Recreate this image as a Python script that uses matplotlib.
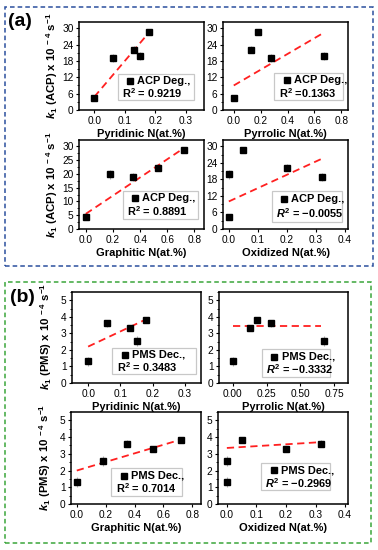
import matplotlib
matplotlib.use("Agg")
import matplotlib.pyplot as plt
from matplotlib.patches import Rectangle
from matplotlib.ticker import AutoMinorLocator

plt.rcParams['font.family'] = ['Liberation Sans', 'DejaVu Sans']
plt.rcParams['mathtext.fontset'] = 'custom'
plt.rcParams['mathtext.rm'] = 'Liberation Sans:bold'
plt.rcParams['mathtext.it'] = 'Liberation Sans:bold:italic'
plt.rcParams['mathtext.bf'] = 'Liberation Sans:bold'

# N species content of the five catalysts (at.%)
pyridinic = [0.0, 0.06, 0.13, 0.15, 0.18]
pyrrolic = [0.0, 0.28, 0.13, 0.67, 0.18]
graphitic = [0.0, 0.35, 0.53, 0.18, 0.72]
oxidized = [0.0, 0.32, 0.20, 0.0, 0.05]

# rate constants
k_acp = [4.5, 19.0, 22.2, 19.8, 28.5]
k_acp_err = [0.8, 1.5, 1.3, 1.5, 1.0]
k_pms = [1.3, 3.6, 3.3, 2.55, 3.82]
k_pms_err = [0.3, 0.2, 0.15, 0.3, 0.1]

# fitted lines (end points as drawn)
acp_fit_x = [[0, 0.18], [0, 0.65], [0, 0.72], [0, 0.32]]
acp_fit_y = [[4.8, 28.5], [9.0, 27.8], [5.5, 29.3], [10.0, 25.5]]
pms_fit_x = [[0, 0.18], [0, 0.65], [0, 0.72], [0, 0.32]]
pms_fit_y = [[2.2, 3.85], [3.45, 3.45], [2.0, 3.85], [3.35, 3.7]]

acp_r2 = ["R$^2$ = 0.9219", "R$^2$ =0.1363", "R$^2$ = 0.8891", "$R^2$ = \u22120.0055"]
pms_r2 = ["R$^2$ = 0.3483", "$R^2$ = \u22120.3332", "R$^2$ = 0.7014", "$R^2$ = \u22120.2969"]

xlabels = ["Pyridinic N(at.%)", "Pyrrolic N(at.%)", "Graphitic N(at.%)", "Oxidized N(at.%)"]

W, H = 378, 550
fig = plt.figure(figsize=(W / 100, H / 100), dpi=100)


def add_ax(x0, y0, x1, y1):
    return fig.add_axes([x0 / W, 1 - y1 / H, (x1 - x0) / W, (y1 - y0) / H])


def panel(ax, x, y, err, fx, fy, xlim, xticks, xfmt, ylim, yticks, xlabel, name, r2, box):
    ax.errorbar(x, y, yerr=err, fmt='none', ecolor='#b0b0b0', elinewidth=0.8, zorder=2)
    ax.plot(x, y, 's', color='black', ms=4.3, zorder=3)
    ax.plot(fx, fy, color='#ff2020', lw=1.3, ls=(0, (4, 2.5)), zorder=2)
    ax.set_xlim(xlim)
    ax.set_ylim(ylim)
    ax.set_xticks(xticks)
    ax.set_xticklabels([xfmt.format(v) for v in xticks])
    ax.set_yticks(yticks)
    ax.yaxis.set_minor_locator(AutoMinorLocator(2))
    ax.tick_params(axis='both', labelsize=7.3, length=2.5, width=0.8, pad=1.5, direction='out')
    ax.tick_params(which='minor', length=1.5, width=0.6)
    for s in ax.spines.values():
        s.set_linewidth(1.1)
    ax.set_xlabel(xlabel, fontsize=8, fontweight='bold', labelpad=2.5)
    bx0, by0, bx1, by1 = box
    ax.add_patch(Rectangle((bx0, by0), bx1 - bx0, by1 - by0, transform=ax.transAxes,
                           fill=True, facecolor='white', edgecolor='#c8c8c8', lw=0.9, zorder=4))
    h = by1 - by0
    ax.plot([bx0 + 0.1], [by1 - 0.27 * h], 's', color='black', ms=3.8,
            transform=ax.transAxes, zorder=5, clip_on=False)
    ax.text(bx0 + 0.155, by1 - 0.27 * h, name, transform=ax.transAxes, fontsize=7.9,
            fontweight='bold', va='center', ha='left', zorder=5)
    ax.text(bx0 + 0.035, by0 + 0.27 * h, r2, transform=ax.transAxes, fontsize=7.9,
            fontweight='bold', va='center', ha='left', zorder=5)


xs = [pyridinic, pyrrolic, graphitic, oxidized]

# panel (a)
acp_axes = [add_ax(79, 22, 204, 110), add_ax(223, 22, 348, 110),
            add_ax(79, 140, 204, 229), add_ax(223, 140, 348, 229)]
acp_xlim = [(-0.05, 0.36), (-0.08, 0.85), (-0.05, 0.87), (-0.02, 0.41)]
acp_xticks = [[0, 0.1, 0.2, 0.3], [0, 0.2, 0.4, 0.6, 0.8], [0, 0.2, 0.4, 0.6, 0.8], [0, 0.1, 0.2, 0.3, 0.4]]
acp_yticks = [[0, 6, 12, 18, 24, 30], [0, 6, 12, 18, 24, 30], [0, 5, 10, 15, 20, 25, 30], [0, 6, 12, 18, 24, 30]]
acp_boxes = [(0.31, 0.11, 0.92, 0.41), (0.41, 0.11, 0.96, 0.42),
             (0.35, 0.11, 0.95, 0.43), (0.39, 0.08, 0.95, 0.43)]
for i, ax in enumerate(acp_axes):
    panel(ax, xs[i], k_acp, k_acp_err, acp_fit_x[i], acp_fit_y[i], acp_xlim[i], acp_xticks[i],
          "{:.1f}", (0, 32.3), acp_yticks[i], xlabels[i], "ACP Deg.,", acp_r2[i], acp_boxes[i])

# panel (b)
pms_axes = [add_ax(72, 292, 201, 383), add_ax(219, 292, 348, 383),
            add_ax(71, 412, 201, 504), add_ax(218, 412, 348, 504)]
pms_xlim = [(-0.05, 0.35), (-0.1, 0.85), (-0.04, 0.86), (-0.03, 0.41)]
pms_xticks = [[0, 0.1, 0.2, 0.3], [0, 0.25, 0.5, 0.75], [0, 0.2, 0.4, 0.6, 0.8], [0, 0.1, 0.2, 0.3, 0.4]]
pms_fmt = ["{:.1f}", "{:.2f}", "{:.1f}", "{:.1f}"]
pms_boxes = [(0.31, 0.10, 0.96, 0.39), (0.33, 0.07, 0.86, 0.37),
             (0.31, 0.09, 0.85, 0.39), (0.33, 0.15, 0.86, 0.45)]
for i, ax in enumerate(pms_axes):
    panel(ax, xs[i], k_pms, k_pms_err, pms_fit_x[i], pms_fit_y[i], pms_xlim[i], pms_xticks[i],
          pms_fmt[i], (0, 5.5), [0, 1, 2, 3, 4, 5], xlabels[i], "PMS Dec.,", pms_r2[i], pms_boxes[i])

# row y labels
for yc, xc, lab in [(66, 52, "ACP"), (185, 52, "ACP"), (337, 46, "PMS"), (458, 45, "PMS")]:
    fig.text(xc / W, 1 - yc / H, r"$k_1$ (" + lab + r") x 10$^{\ -4}$ s$^{-1}$", rotation=90,
             ha='center', va='center', fontsize=8.2, fontweight='bold')

# dashed frames around the two panels
fig.add_artist(Rectangle((5 / W, 1 - 266 / H), 368 / W, 259 / H, transform=fig.transFigure,
                         fill=False, edgecolor='#2b4f9e', lw=1.1, ls=(0, (3, 2))))
fig.add_artist(Rectangle((5 / W, 1 - 543 / H), 366 / W, 261 / H, transform=fig.transFigure,
                         fill=False, edgecolor='#3aa63a', lw=1.1, ls=(0, (3, 2))))
fig.text(20 / W, 1 - 21 / H, "(a)", fontsize=14, fontweight='bold', ha='center', va='center')
fig.text(22 / W, 1 - 297 / H, "(b)", fontsize=14, fontweight='bold', ha='center', va='center')

fig.savefig("out.png", dpi=100)
